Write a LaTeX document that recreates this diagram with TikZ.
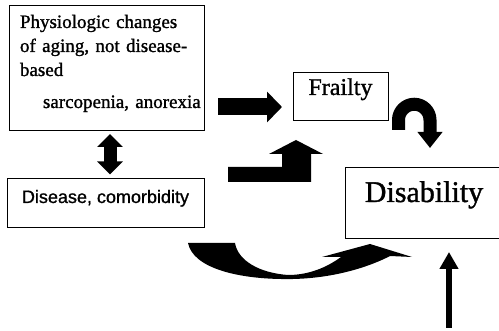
\documentclass[tikz,border=0pt]{standalone}
\usepackage{fontspec}
\setmainfont{Liberation Serif}
\setsansfont{Liberation Sans}
\newfontfamily\scanserif{Liberation Serif}[FakeBold=1.2]
\newfontfamily\scansans{Liberation Sans}[FakeBold=1.0]
\usetikzlibrary{positioning, calc, arrows.meta}

\begin{document}
\begin{tikzpicture}[
    x=1pt, y=-1pt,
    box_style/.style={
        draw=black,
        line width=0.8pt,
        inner sep=0pt,
        outer sep=0pt
    },
    fat_style/.style={line width=17pt, -{Triangle[width=30pt, length=15pt]}},
    dbl_style/.style={
        line width=13pt,
        {Triangle[width=25pt, length=13pt]}-{Triangle[width=25pt, length=13pt]}
    },
    loop_style/.style={line width=13pt, -{Triangle[width=24pt, length=16pt]}},
    thin_style/.style={line width=6pt, -{Triangle[width=18pt, length=17pt]}}
]

\clip (0,0) rectangle (499,331);

\node[box_style, anchor=north west, inner xsep=11pt, text width=173pt,
    text height=23pt, text depth=102pt, align=left,
    font=\scanserif\fontsize{19}{24}\selectfont] (physio) at (9,5)
    {Physiologic changes\\of aging, not disease-\\based\\[8pt]
     \hspace*{23pt}\makebox[150pt][l]{sarcopenia, anorexia}};

\node[box_style, minimum width=197pt, minimum height=49pt,
    text height=13pt, text depth=12pt,
    font=\scansans\fontsize{18}{22}\selectfont] (disease) at (105.5,202.5)
    {Disease, comorbidity};

\node[box_style, minimum width=95pt, minimum height=48pt,
    text height=16pt, text depth=18pt,
    font=\scanserif\fontsize{24}{28}\selectfont] (frailty) at (340.5,96) {Frailty};

\node[box_style, anchor=north west, minimum width=158pt, minimum height=71pt,
    text height=20pt, text depth=21pt,
    font=\scanserif\fontsize{30}{34}\selectfont] (disability) at (345,167) {Disability};

% physiologic changes -> frailty
\draw[fat_style] ($(physio.east)+(14,39.5)$) -- ($(frailty.west)+(-11,11)$);

% physiologic changes <-> disease
\draw[dbl_style] ($(physio.south)+(3.5,4)$) -- ($(disease.north)+(4.5,-3.5)$);

% disease -> frailty
\coordinate (eb) at ($(disease.east)+(24,-20.5)$);
\fill (eb) -- ++(0,-15) -- ++(54,0) -- ++(0,-13) -- ++(-13,0) -- ++(27,-14)
    -- ++(27,14) -- ++(-12,0) -- ++(0,28) -- cycle;

% frailty -> disability
\draw[loop_style] ($(frailty.south east)+(10.5,10)$) -- ++(0,-10)
    arc[start angle=180, end angle=360, radius=15.75]
    -- ($(disability.north west)+(85,-19)$);

% disease -> disability
\coordinate (cs) at ($(disease.south east)+(-16,16)$);
\begin{scope}[shift={(cs)}]
\fill (0,0) .. controls (5,25) and (50,37) .. (105,36)
    .. controls (150,35) and (185,22) .. (202,13)
    -- (224,14) -- (182,1) -- (134,14) -- (153,14)
    .. controls (138,25) and (120,32) .. (100,32)
    .. controls (72,30) and (50,18) .. (47,0) -- cycle;
\end{scope}

% from below -> disability
\coordinate (src) at ($(disability.south west)+(104,90)$);
\draw[thin_style] (src) -- ($(disability.south west)+(104,14)$);

\end{tikzpicture}
\end{document}
